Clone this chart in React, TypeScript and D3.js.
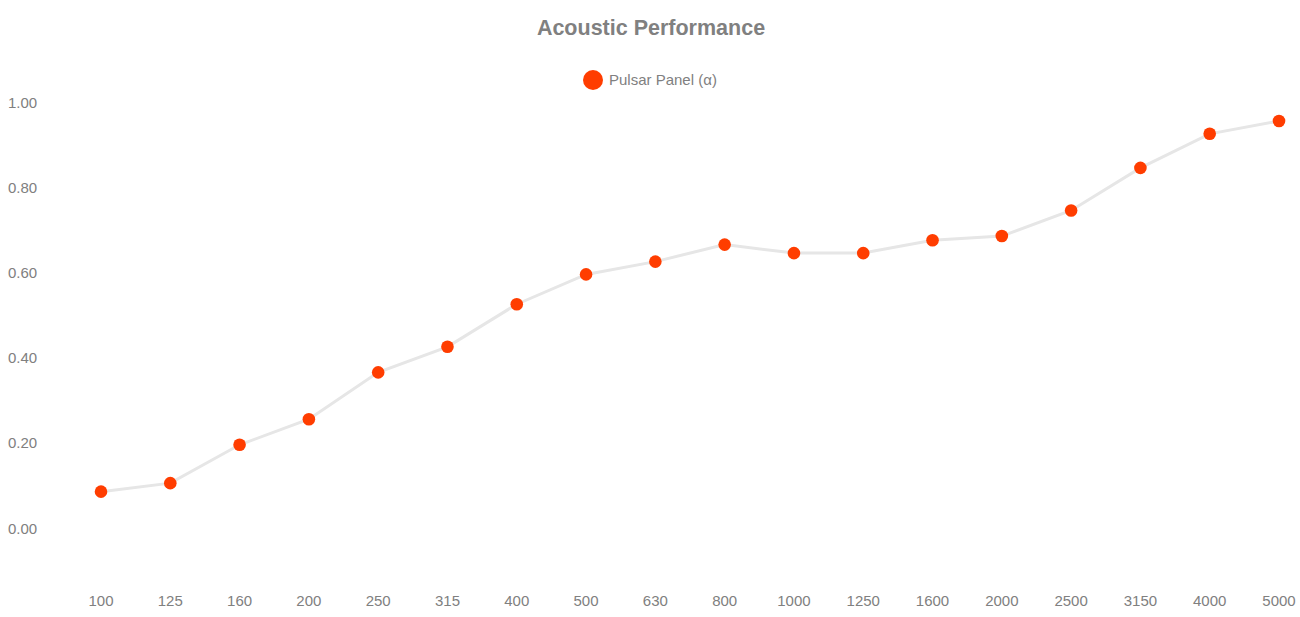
import React from 'react';
import * as d3 from 'd3';

const frequencies = ['100', '125', '160', '200', '250', '315', '400', '500', '630', '800', '1000', '1250', '1600', '2000', '2500', '3150', '4000', '5000'];
const absorption = [0.09, 0.11, 0.2, 0.26, 0.37, 0.43, 0.53, 0.6, 0.63, 0.67, 0.65, 0.65, 0.68, 0.69, 0.75, 0.85, 0.93, 0.96];
const yTicks = [0, 0.2, 0.4, 0.6, 0.8, 1.0];

const seriesName = 'Pulsar Panel (\u03b1)';
const title = 'Acoustic Performance';

const App = () => {
  const width = 1300;
  const height = 617;
  const font = '"Liberation Sans", Arial, Helvetica, sans-serif';
  const textColor = '#808080';
  const dotColor = '#ff3d00';

  const x = d3.scalePoint<string>().domain(frequencies).range([101, 1279]);
  const y = d3.scaleLinear().domain([0, 1]).range([530, 104]);

  const line = d3
    .line<number>()
    .x((_, i) => x(frequencies[i]) ?? 0)
    .y((d) => y(d));

  return (
    <svg
      width={width}
      height={height}
      style={{ position: 'absolute', left: 0, top: 0, fontFamily: font }}
    >
      <rect width={width} height={height} fill="#ffffff" />
      <text x={651} y={35} textAnchor="middle" fontSize={21.5} fontWeight="bold" fill={textColor}>
        {title}
      </text>

      {/* legenda */}
      <circle cx={593} cy={80} r={10} fill={dotColor} />
      <text x={609} y={85} fontSize={15} fill={textColor}>
        {seriesName}
      </text>

      {/* eixo y */}
      {yTicks.map((t) => (
        <text key={t} x={8} y={y(t) + 3.5} fontSize={15} fill={textColor}>
          {d3.format('.2f')(t)}
        </text>
      ))}

      {/* eixo x */}
      {frequencies.map((f) => (
        <text key={f} x={x(f)} y={605.5} textAnchor="middle" fontSize={15} fill={textColor}>
          {f}
        </text>
      ))}

      <path d={line(absorption) || ''} fill="none" stroke="#e6e6e6" strokeWidth={3} />

      {absorption.map((v, i) => (
        <circle key={i} cx={x(frequencies[i])} cy={y(v)} r={6.3} fill={dotColor} />
      ))}
    </svg>
  );
};

export default App;
